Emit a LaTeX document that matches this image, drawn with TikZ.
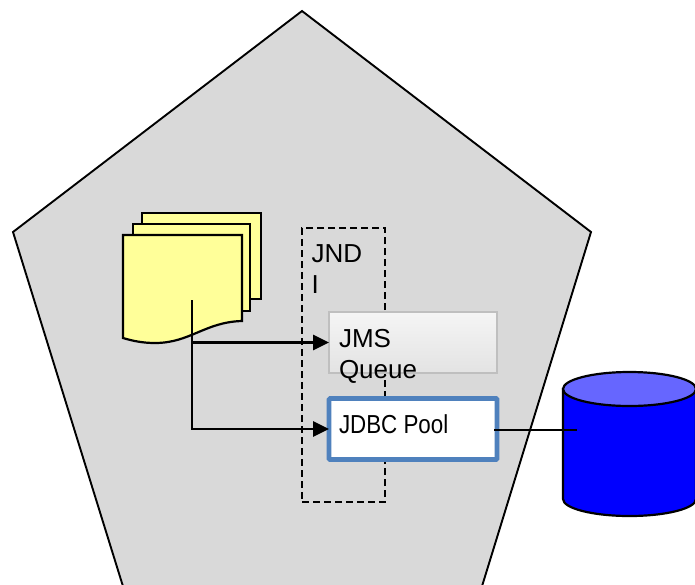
\documentclass[tikz,border=0pt]{standalone}
\usepackage{fontspec}
\setmainfont{Liberation Sans}
\usetikzlibrary{calc,arrows.meta}
\definecolor{wallgray}{HTML}{D9D9D9}
\definecolor{docyellow}{HTML}{FFFF99}
\definecolor{poolblue}{HTML}{4F81BD}
\definecolor{dbtop}{HTML}{6666FF}

\begin{document}
\begin{tikzpicture}[x=1pt,y=-1pt,every node/.style={outer sep=0pt,inner sep=0pt}]
\tikzstyle{page}=[draw=black,line width=2.2pt,fill=docyellow,line join=miter]
\tikzstyle{caption}=[anchor=north west,align=left,font=\fontsize{26}{31}\selectfont]
\tikzstyle{link}=[line width=2.7pt,-{Triangle[length=16pt,width=15pt]}]
\useasboundingbox (0,0) rectangle (695,584);

% server outline
\begin{scope}
\clip (0,0) rectangle (695,584);
\draw [fill=wallgray,line width=1.9pt,line join=miter] (302,11) -- (591,232) -- (479,596) -- (126,596) -- (13,232) -- cycle;
\end{scope}

% stack of documents
\draw [page] (142,213) rectangle (261,299);
\draw [page] (133,224) rectangle (250,311);
\draw [page] (123,235) -- (242,235) -- (242,321) .. controls (205,322) and (190,343) .. (155,343) .. controls (143,343) and (133,341) .. (123,338) -- cycle;
\coordinate (docs) at (192,300);

% naming context
\node (jndi) [draw,line width=2pt,dash pattern=on 7pt off 4pt,minimum width=83pt,minimum height=274pt,anchor=north west] at (302,228) {};
\node (jnditext) [caption] at (311.5,245) {JND\\I};

\node (jms) [draw=black!25,line width=2.4pt,top color=black!4,bottom color=black!11,minimum width=168pt,minimum height=61pt,anchor=north west] at (329,312) {};
\node (jmstext) [caption] at (339,329.5) {JMS\\Queue};

\node (pool) [draw=poolblue,line width=4.6pt,rounded corners=1pt,fill=white,minimum width=168pt,minimum height=61pt,anchor=north west] at (329,398.5) {};
\node (pooltext) [caption] at (339,415) {\scalebox{.86}[1]{JDBC Pool}};

% database
\draw [fill=blue,line width=2.2pt] (563,389) -- (563,499) .. controls (563,508.4) and (592.8,516) .. (629.5,516) .. controls (666.2,516) and (696,508.4) .. (696,499) -- (696,389) -- cycle;
\draw [fill=dbtop,line width=2.2pt] (629.5,389) ellipse [x radius=66.5,y radius=17];
\coordinate (dbin) at (577,430);
\coordinate (poolout) at (494,430);

\draw [link] (docs) |- (pool.west);
\draw [link] (docs |- jms.west) -- (jms.west);
\draw [line width=1.6pt] (poolout) -- (dbin);
\end{tikzpicture}
\end{document}
